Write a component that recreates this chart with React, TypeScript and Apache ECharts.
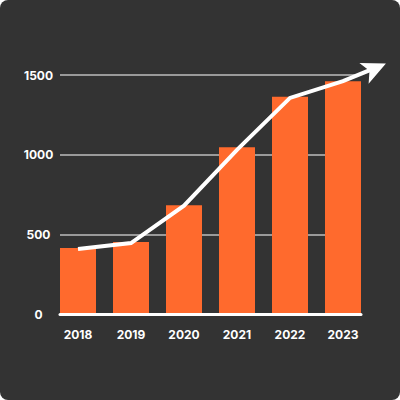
import React, { useEffect, useRef } from "react";
import * as echarts from "echarts";

const years = ["2018", "2019", "2020", "2021", "2022", "2023"];
const barValues = [415, 452, 683, 1047, 1363, 1460];
const lineValues = [408, 445, 680, 1030, 1356, 1462];
const arrowPoint = { x: 5.81, y: 1572 };
const yTicks = { min: 0, max: 1500, interval: 500 };

export default function App() {
  const ref = useRef<HTMLDivElement>(null);
  useEffect(() => {
    if (!ref.current) return;
    const chart = echarts.init(ref.current, null, { renderer: "svg" });
    const linePoints: any[] = lineValues.map((v, i) => [i, v]);
    linePoints.push({
      value: [arrowPoint.x, arrowPoint.y],
      symbol: "arrow",
      symbolSize: [17, 24],
      symbolRotate: -66,
      itemStyle: { color: "#ffffff" },
    });
    const font = "Inter, 'Open Sans', sans-serif";
    chart.setOption({
      animation: false,
      backgroundColor: "transparent",
      grid: [
        { left: 51.5, right: 30.5, top: 75, bottom: 86 },
        { left: 60, right: 39, top: 75, bottom: 86 },
      ],
      xAxis: [
        {
          type: "category",
          gridIndex: 0,
          data: years,
          axisLine: { show: false },
          axisTick: { show: false },
          axisLabel: {
            color: "#ffffff",
            fontWeight: "bold",
            fontSize: 12,
            fontFamily: font,
            margin: 14,
          },
        },
        {
          type: "value",
          gridIndex: 0,
          min: -0.5,
          max: 5.5,
          show: false,
        },
        {
          type: "category",
          gridIndex: 1,
          data: years,
          axisLine: { show: true, lineStyle: { color: "#ffffff", width: 3 } },
          axisTick: { show: false },
          axisLabel: { show: false },
          z: 5,
        },
      ],
      yAxis: [
        {
          type: "value",
          gridIndex: 0,
          min: yTicks.min,
          max: yTicks.max,
          interval: yTicks.interval,
          show: false,
        },
        {
          type: "value",
          gridIndex: 1,
          min: yTicks.min,
          max: yTicks.max,
          interval: yTicks.interval,
          axisLine: { show: false },
          axisTick: { show: false },
          splitLine: { lineStyle: { color: "#9a9a9a", width: 2 } },
          axisLabel: {
            color: "#ffffff",
            fontWeight: "bold",
            fontSize: 12,
            fontFamily: font,
            align: "center",
            margin: 21.5,
            formatter: (v: number) => String(v),
          },
        },
      ],
      series: [
        {
          type: "bar",
          xAxisIndex: 0,
          yAxisIndex: 0,
          data: barValues,
          barWidth: 36,
          itemStyle: { color: "#ff6a2d" },
          z: 2,
        },
        {
          type: "line",
          xAxisIndex: 1,
          yAxisIndex: 0,
          data: linePoints,
          clip: false,
          showSymbol: true,
          symbol: "none",
          lineStyle: { color: "#ffffff", width: 4, join: "miter" },
          itemStyle: { color: "#ffffff" },
          z: 10,
        },
      ],
    });
    return () => chart.dispose();
  }, []);
  return (
    <div
      style={{
        position: "fixed",
        left: 0,
        top: 0,
        width: 400,
        height: 400,
        background: "#333333",
        borderRadius: 8,
        overflow: "hidden",
      }}
    >
      <div ref={ref} style={{ width: 400, height: 400 }} />
    </div>
  );
}
